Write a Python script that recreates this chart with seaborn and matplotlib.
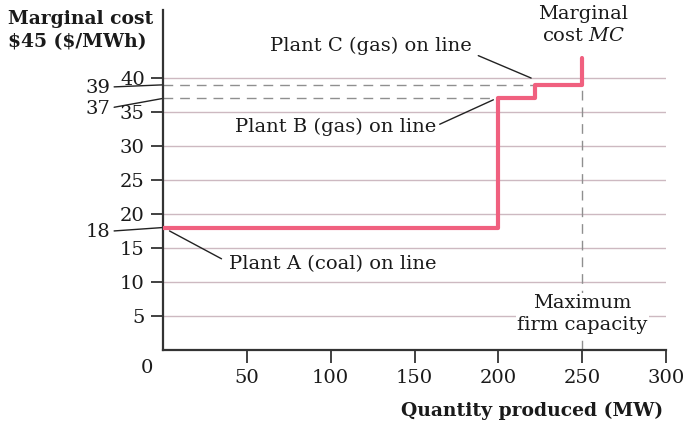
import matplotlib
matplotlib.use("Agg")
import matplotlib.pyplot as plt
import seaborn as sns
import pandas as pd

# Marginal cost curve (step)
quantity = [0, 200, 200, 222, 222, 250, 250]
marginal_cost = [18, 18, 37, 37, 39, 39, 43]
x_ticks = [50, 100, 150, 200, 250, 300]
y_ticks = [5, 10, 15, 20, 25, 30, 35, 40]
capacity = 250

sns.set_style("white")
plt.rcParams['font.family'] = ['DejaVu Serif']
plt.rcParams['mathtext.fontset'] = 'dejavuserif'

df = pd.DataFrame({'Quantity': quantity, 'MC': marginal_cost})

fig = plt.figure(figsize=(6.84, 4.21), dpi=100)
ax = fig.add_axes([0.238, 0.169, 0.736, 0.807])

txt = '#1a1a1a'
fs = 14
grid_col = '#cdb9c1'
for y in y_ticks:
    ax.axhline(y, color=grid_col, lw=1.0, zorder=1)

# dashed guides
for c, xend in [(37, 200), (39, 222)]:
    ax.plot([0, xend], [c, c], color='#8f8f8f', lw=1.0, ls=(0, (7, 5)), zorder=2)
ax.plot([capacity, capacity], [0, 39], color='#8f8f8f', lw=1.0, ls=(0, (7, 5)), zorder=2)

sns.lineplot(data=df, x='Quantity', y='MC', sort=False, estimator=None,
             color='#f0607f', lw=3, ax=ax, zorder=4)

ax.set_xlim(0, 300)
ax.set_ylim(0, 50)
ax.set_xticks(x_ticks)
ax.set_yticks(y_ticks)
ax.tick_params(axis='both', direction='out', length=9, width=1.3, color='#333333',
               labelsize=fs, labelcolor=txt, bottom=True, left=True)
ax.tick_params(axis='x', pad=5)
ax.tick_params(axis='y', pad=4)
for s in ['top', 'right']:
    ax.spines[s].set_visible(False)
for s in ['left', 'bottom']:
    ax.spines[s].set_linewidth(1.6)
    ax.spines[s].set_color('#333333')
ax.set_xlabel('')
ax.set_ylabel('')

# zero label at corner
ax.text(-5.5, -2.7, '0', ha='right', va='center', fontsize=fs, color=txt, clip_on=False)

# side labels with leader lines
for val, ty in [(39, 38.5), (37, 35.5), (18, 17.3)]:
    ax.text(-31, ty, str(val), ha='right', va='center', fontsize=fs, color=txt)
    ax.plot([-29, 0], [ty + 0.2, val], color='#222222', lw=1.0, clip_on=False)

# annotations
ax.text(124, 44.8, 'Plant C (gas) on line', ha='center', va='center', fontsize=fs, color=txt)
ax.plot([188, 219.5], [43.3, 40.0], color='#222222', lw=1.0)
ax.text(103, 32.8, 'Plant B (gas) on line', ha='center', va='center', fontsize=fs, color=txt)
ax.plot([165, 197], [33.2, 36.8], color='#222222', lw=1.0)
ax.text(101, 12.6, 'Plant A (coal) on line', ha='center', va='center', fontsize=fs, color=txt)
ax.plot([35, 4], [13.4, 17.5], color='#222222', lw=1.0)

ax.text(250.5, 47.8, 'Marginal\ncost $\\mathit{MC}$', ha='center', va='center', fontsize=fs,
        color=txt, linespacing=1.3)
ax.text(250, 5.3, 'Maximum\nfirm capacity', ha='center', va='center', fontsize=fs,
        color=txt, linespacing=1.25, zorder=5,
        bbox=dict(facecolor='white', edgecolor='none', pad=1))

fig.text(0.012, 0.927, 'Marginal cost\n\\$45 (\\$/MWh)', ha='left', va='center', fontsize=13.5,
         fontweight='bold', color=txt, linespacing=1.33)
fig.text(0.97, 0.025, 'Quantity produced (MW)', ha='right', va='center', fontsize=13.5,
         fontweight='bold', color=txt)

fig.savefig('out.png', dpi=100)
